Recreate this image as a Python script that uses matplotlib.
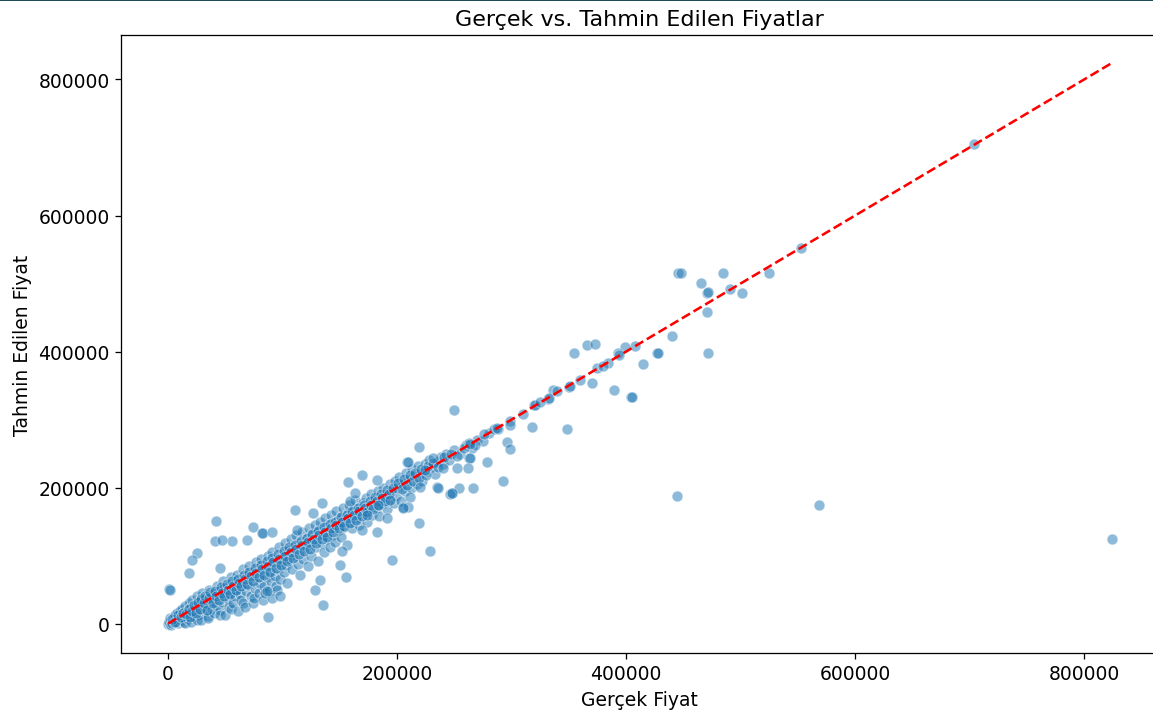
import matplotlib
matplotlib.use("Agg")
import matplotlib.pyplot as plt
import seaborn as sns
import numpy as np
from matplotlib.patches import Rectangle

# (gercek, tahmin) pairs
yogun_bolge = [
    (0, 0), (1000, 3000), (2000, 8000), (2500, -2000), (3000, 1000), (4000, 5000), (5000, 9000),
    (5000, 2000), (6000, 12000), (7000, 4000), (8000, 7000), (8000, 15000), (9000, 1000),
    (10000, 10000), (10000, 18000), (11000, 5000), (12000, 13000), (12000, 22000), (13000, 8000),
    (14000, 2000), (14000, 17000), (15000, 26000), (15000, 1000), (16000, 11000), (17000, 6000),
    (17000, 20000), (18000, 30000), (19000, 14000), (20000, 3000), (20000, 24000), (21000, 35000),
    (22000, 17000), (23000, 9000), (24000, 28000), (25000, 40000), (25000, 5000), (26000, 21000),
    (27000, 13000), (28000, 33000), (29000, 5000), (30000, 25000), (30000, 45000), (32000, 18000),
    (33000, 38000), (34000, 29000), (35000, 11000), (35000, 8000), (36000, 50000), (37000, 33000),
    (38000, 22000), (39000, 44000), (40000, 15000), (41000, 37000), (42000, 27000), (43000, 55000),
    (44000, 48000), (45000, 20000), (45000, 12000), (45400, 81900), (46000, 40000), (47000, 31000),
    (48000, 62000), (49000, 52000), (50000, 12000), (50000, 44000), (52000, 36000), (53000, 25000),
    (54000, 58000), (55000, 68000), (55000, 22000), (56000, 47000), (57000, 30000), (58000, 40000),
    (59000, 63000), (60000, 72000), (61000, 18000), (62000, 52000), (63000, 44000), (64000, 35000),
    (65000, 80000), (65000, 30000), (66000, 60000), (67000, 25000), (68000, 48000), (69000, 70000),
    (70000, 56000), (71000, 85000), (72000, 40000), (73000, 64000), (74000, 30000), (75000, 77000),
    (75000, 38000), (76000, 52000), (77000, 90000), (78000, 68000), (79000, 45000), (80000, 60000),
    (81000, 95000), (82000, 75000), (83000, 35000), (84000, 55000), (85000, 84000), (85000, 45000),
    (86000, 68000), (87000, 100000), (88000, 48000), (89000, 78000), (90000, 62000), (91000, 105000),
    (92000, 88000), (93000, 70000), (94000, 55000), (95000, 95000), (95000, 50000), (96000, 80000),
    (97000, 112000), (98000, 66000), (99000, 90000), (100000, 100000), (101000, 76000),
    (102000, 118000), (103000, 86000), (104000, 60000), (105000, 108000), (106000, 95000),
    (107000, 125000), (108000, 80000), (109000, 112000), (110000, 100000), (112000, 130000),
    (113000, 88000), (114000, 118000), (115000, 72000), (116000, 106000), (117000, 135000),
    (118000, 95000), (120000, 125000), (121000, 110000), (122000, 84000), (123000, 140000),
    (124000, 118000), (125000, 100000), (126000, 130000), (128000, 145000), (129000, 112000),
    (130000, 125000), (131000, 92000), (132000, 138000), (133000, 150000), (134000, 118000),
    (135000, 130000), (136000, 105000), (137000, 155000), (138000, 142000), (139000, 125000),
    (140000, 135000), (141000, 112000), (142000, 160000), (143000, 148000), (144000, 130000),
    (145000, 140000), (146000, 120000), (147000, 165000), (148000, 152000), (149000, 138000),
    (150000, 148000), (151000, 128000), (152000, 158000), (153000, 170000), (154000, 142000),
    (155000, 155000), (156000, 115000), (157000, 162000), (158000, 175000), (159000, 150000),
    (160000, 160000), (161000, 140000), (162000, 168000), (163000, 182000), (164000, 155000),
    (165000, 165000), (167000, 145000), (168000, 172000), (169000, 160000), (170000, 178000),
    (172000, 165000), (173000, 185000), (174000, 150000), (175000, 172000), (177000, 190000),
    (178000, 160000), (179000, 178000), (180000, 182000), (182000, 170000), (183000, 195000),
    (184000, 158000), (185000, 186000), (187000, 176000), (188000, 200000), (190000, 190000),
    (191000, 168000), (192000, 180000), (194000, 205000), (195000, 195000), (197000, 178000),
    (198000, 210000), (199000, 188000), (200000, 200000), (202000, 215000), (203000, 180000),
    (205000, 205000), (207000, 195000), (208000, 222000), (210000, 212000), (212000, 200000),
    (213000, 228000), (215000, 218000), (217000, 205000), (218000, 232000), (220000, 222000),
    (222000, 210000), (224000, 235000), (226000, 225000), (228000, 240000), (230000, 230000),
    (233000, 220000), (235000, 238000), (238000, 245000), (240000, 235000), (243000, 250000),
    (245000, 240000), (250000, 255000), (255000, 250000), (260000, 262000), (265000, 258000),
    (270000, 270000), (275000, 268000),
]

# extra points packed around the diagonal, where the band is nearly solid
yogun_cizgi = [
    (3000, 6000), (6000, 3000), (9000, 12000), (11000, 9000), (13000, 16000), (16000, 14000),
    (18000, 21000), (19000, 9000), (21000, 19000), (23000, 27000), (24000, 15000), (26000, 31000),
    (28000, 22000), (29000, 36000), (31000, 30000), (32000, 41000), (34000, 20000), (36000, 38000),
    (37000, 46000), (39000, 30000), (41000, 48000), (42000, 40000), (44000, 35000), (46000, 54000),
    (47000, 45000), (49000, 40000), (51000, 58000), (52000, 50000), (54000, 44000), (56000, 63000),
    (57000, 55000), (59000, 50000), (61000, 66000), (62000, 60000), (64000, 55000), (66000, 72000),
    (67000, 65000), (69000, 58000), (71000, 76000), (72000, 70000), (74000, 62000), (76000, 82000),
    (77000, 75000), (79000, 68000), (81000, 86000), (82000, 80000), (84000, 72000), (86000, 92000),
    (87000, 85000), (89000, 76000), (91000, 96000), (92000, 90000), (94000, 82000), (96000, 102000),
    (97000, 95000), (99000, 86000), (101000, 106000), (102000, 100000), (104000, 92000),
    (106000, 112000), (107000, 105000), (109000, 96000), (111000, 116000), (112000, 110000),
    (114000, 102000), (116000, 122000), (117000, 115000), (119000, 106000), (121000, 126000),
    (122000, 120000), (124000, 110000), (126000, 132000), (127000, 125000), (129000, 118000),
    (131000, 136000), (132000, 130000), (134000, 124000), (136000, 142000), (137000, 135000),
    (139000, 128000), (141000, 146000), (142000, 140000), (144000, 134000), (146000, 150000),
    (147000, 145000), (149000, 140000), (151000, 156000), (152000, 150000), (154000, 144000),
    (156000, 160000), (157000, 155000), (159000, 148000), (161000, 166000), (162000, 160000),
    (164000, 152000), (166000, 170000), (167000, 165000), (169000, 158000), (171000, 175000),
    (172000, 170000), (174000, 164000), (176000, 180000), (177000, 175000), (179000, 168000),
    (181000, 186000), (182000, 180000), (184000, 174000), (186000, 190000), (187000, 185000),
    (189000, 180000), (191000, 196000), (193000, 190000), (196000, 200000), (201000, 206000),
    (204000, 198000), (206000, 212000), (209000, 204000), (211000, 218000), (214000, 210000),
    (216000, 222000), (219000, 214000), (221000, 228000), (225000, 218000), (227000, 232000),
    (231000, 236000), (236000, 230000), (241000, 245000), (247000, 250000), (252000, 246000),
    (258000, 258000), (263000, 266000), (268000, 262000), (280000, 280000), (285000, 286000),
]

yogun_aykiri = [
    (41700, 150200), (110900, 166300), (134200, 177000), (74500, 141400), (25000, 103800),
    (20700, 94000), (17800, 74600), (1100, 50200), (1500, 49500), (41000, 120900),
    (55600, 121900), (46900, 123400), (68700, 123400), (83200, 133100), (90600, 134600),
    (81800, 133100), (195400, 94000), (87600, 9800), (135100, 26800), (128400, 48700),
    (132800, 64800), (155500, 68300), (150200, 86700), (151600, 106300), (90600, 38000),
    (97800, 40500), (86200, 47800), (182300, 134600), (169200, 138100), (190900, 155000),
    (183700, 174500), (157500, 208700), (169200, 218500), (182300, 211300), (208500, 237900),
    (234600, 201400), (247800, 191600), (205500, 172100), (193900, 182000), (173500, 159900),
    (159000, 180300), (163300, 191600), (126900, 162300), (112400, 138100),
]

seyrek_bolge = [
    (445700, 515800), (447500, 515800), (485000, 515800), (525200, 515800), (465500, 500200),
    (470500, 486600), (471500, 487500), (490900, 491400), (501100, 486600), (470500, 458300),
    (552600, 552400), (439900, 423100), (471900, 397400), (426800, 397400), (427800, 398500),
    (415100, 381700), (407900, 407600), (399100, 406100), (393300, 397800), (384600, 383200),
    (374400, 375400), (365700, 409500), (373000, 411000), (354600, 397400), (370100, 353900),
    (389000, 344100), (404100, 332500), (405000, 333500), (350500, 348500), (336000, 344100),
    (332200, 330500), (333000, 331500), (319700, 321800), (249800, 313400), (317600, 289300),
    (348200, 285700), (298700, 297600), (295800, 267300), (298700, 257400), (288500, 286700),
    (276000, 279400), (263800, 264700), (278900, 237900), (263200, 242800), (264000, 243500),
    (292900, 209600), (266100, 199900), (254400, 199900), (246300, 190600), (247500, 191500),
    (236100, 199900), (219500, 258900), (219500, 147700), (444300, 188200), (568800, 174500),
    (824000, 125000), (704000, 704900), (228800, 106300), (252700, 228200), (262300, 229300),
    (240400, 229300), (231700, 242800), (224500, 225700), (209900, 237900), (220100, 201400),
    (211400, 186800), (209900, 172100), (205500, 169700), (286900, 287600), (298700, 291600),
    (320500, 320900), (351100, 349100), (340000, 342000), (360000, 358000), (380000, 378000),
    (394000, 395000), (310000, 308000), (325000, 326000),
]

noktalar = np.array(yogun_bolge + yogun_cizgi + yogun_aykiri + seyrek_bolge, dtype=float)
y_test = noktalar[:, 0]
y_pred = noktalar[:, 1]

plt.rcParams["font.size"] = 11.7
plt.rcParams["axes.titlesize"] = 13.9

fig = plt.figure(figsize=(10, 6.227), dpi=115.3)
ax = fig.add_axes([0.1049, 0.0891, 0.9001, 0.8607])

sns.scatterplot(x=y_test, y=y_pred, alpha=0.5, s=46, ax=ax)
ax.plot([y_test.min(), y_test.max()], [y_test.min(), y_test.max()], "r--", lw=1.6)

ax.set_xlabel("Gerçek Fiyat")
ax.set_ylabel("Tahmin Edilen Fiyat")
ax.set_title("Gerçek vs. Tahmin Edilen Fiyatlar")

# dark strip at the very top of the screenshot
fig.add_artist(Rectangle((0, 1 - 2 / 718), 1, 2 / 718, transform=fig.transFigure,
                         color="#1d4a5c", lw=0))

fig.savefig("out.png", dpi=115.3)
